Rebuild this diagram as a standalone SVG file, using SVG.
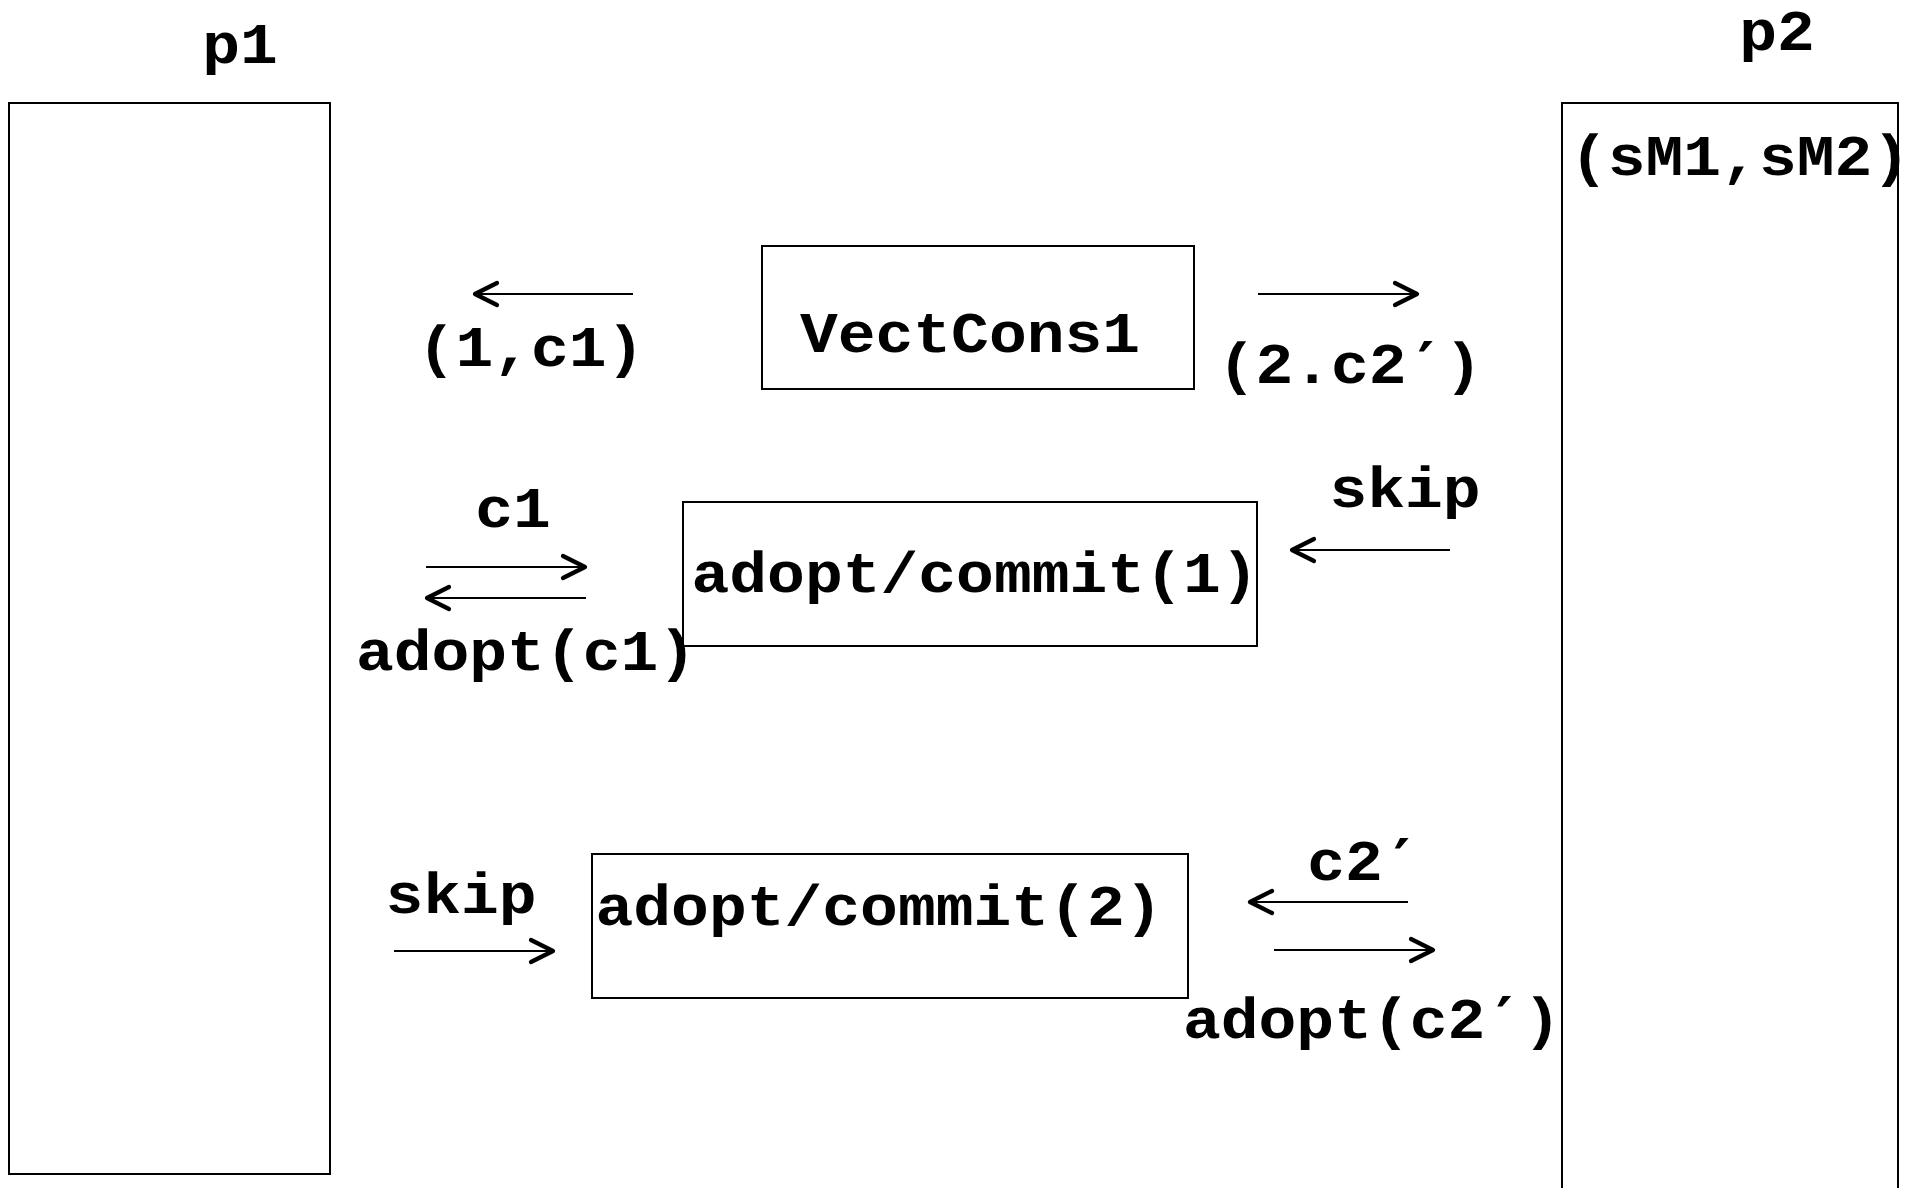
<svg xmlns="http://www.w3.org/2000/svg" width="1919" height="1188" viewBox="0 0 1919 1188">
  <style>
    .box { fill: none; stroke: #000; stroke-width: 2; }
    .lbl { font-family: "Liberation Mono", "Courier New", monospace; font-weight: bold; font-size: 63px; fill: #000; text-anchor: middle; }
    .pr { font-family: "DejaVu Sans Mono", "Liberation Mono", monospace; }
    .msg { stroke: #000; stroke-width: 2; fill: none; marker-end: url(#head); }
  </style>
  <defs>
    <marker id="head" markerUnits="userSpaceOnUse" viewBox="-26 -14 30 28" markerWidth="30" markerHeight="28" refX="0" refY="0" orient="auto">
      <path d="M -22 -11 L 0 0 L -22 11" fill="none" stroke="#000" stroke-width="4.2" stroke-linecap="round" stroke-linejoin="round"/>
    </marker>
  </defs>
  <rect width="1919" height="1188" fill="#fff"/>

  <!-- process p1 -->
  <g id="p1">
    <rect class="box" x="9" y="103" width="321" height="1071"/>
    <text class="lbl" transform="translate(240 63) scale(1 0.9)">p1</text>
  </g>

  <!-- process p2 -->
  <g id="p2">
    <rect class="box" x="1562" y="103" width="336" height="1100"/>
    <text class="lbl" transform="translate(1777 50) scale(1 0.9)">p2</text>
    <text class="lbl" transform="translate(1740 175) scale(1 0.9)">(sM1,sM2)</text>
  </g>

  <!-- vector consensus object -->
  <g id="vectcons1">
    <rect class="box" x="762" y="246" width="432" height="143"/>
    <text class="lbl" transform="translate(970 352) scale(1 0.9)">VectCons1</text>
  </g>

  <!-- adopt/commit object, round 1 -->
  <g id="ac1">
    <rect class="box" x="683" y="502" width="574" height="144"/>
    <text class="lbl" transform="translate(975 592) scale(1 0.9)">adopt/commit(1)</text>
  </g>

  <!-- adopt/commit object, round 2 -->
  <g id="ac2">
    <rect class="box" x="592" y="854" width="596" height="144"/>
    <text class="lbl" transform="translate(879 925) scale(1 0.9)">adopt/commit(2)</text>
  </g>

  <!-- messages -->
  <g id="connectors">
    <line class="msg" x1="633" y1="294" x2="475" y2="294"/>
    <line class="msg" x1="1258" y1="294" x2="1417" y2="294"/>
    <line class="msg" x1="426" y1="567" x2="585" y2="567"/>
    <line class="msg" x1="586" y1="598" x2="427" y2="598"/>
    <line class="msg" x1="1450" y1="550" x2="1292" y2="550"/>
    <line class="msg" x1="394" y1="951" x2="553" y2="951"/>
    <line class="msg" x1="1408" y1="902" x2="1250" y2="902"/>
    <line class="msg" x1="1274" y1="950" x2="1433" y2="950"/>
  </g>

  <!-- message labels -->
  <g id="labels">
    <text class="lbl" transform="translate(531 366) scale(1 0.9)">(1,c1)</text>
    <text class="lbl" transform="translate(1350 383) scale(1 0.9)">(2.c2<tspan class="pr">′</tspan>)</text>
    <text class="lbl" transform="translate(513 527) scale(1 0.9)">c1</text>
    <text class="lbl" transform="translate(526 670) scale(1 0.9)">adopt(c1)</text>
    <text class="lbl" transform="translate(1405 507) scale(1 0.9)">skip</text>
    <text class="lbl" transform="translate(461 913) scale(1 0.9)">skip</text>
    <text class="lbl" transform="translate(1364 880) scale(1 0.9)">c2<tspan class="pr">′</tspan></text>
    <text class="lbl" transform="translate(1372 1038) scale(1 0.9)">adopt(c2<tspan class="pr">′</tspan>)</text>
  </g>
</svg>
